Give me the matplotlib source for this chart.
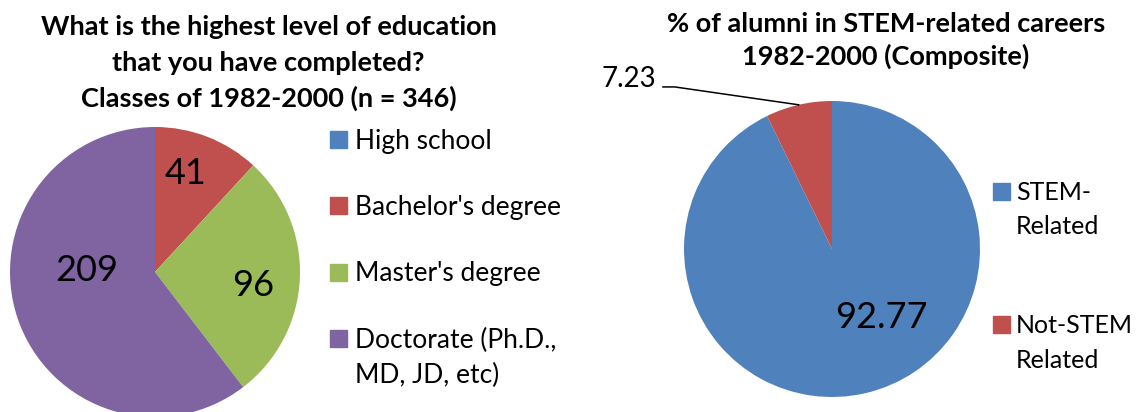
import matplotlib.pyplot as plt
from matplotlib.patches import Rectangle
import numpy as np

plt.rcParams['font.family'] = ['Lato', 'DejaVu Sans']

W, H = 1138, 412

# Data
edu_labels = ['High school', "Bachelor's degree", "Master's degree", 'Doctorate (Ph.D.,\nMD, JD, etc)']
edu_counts = [0, 41, 96, 209]
edu_title = 'What is the highest level of education\nthat you have completed?\nClasses of 1982-2000 (n = 346)'

stem_labels = ['STEM-\nRelated', 'Not-STEM\nRelated']
stem_pct = [92.77, 7.23]
stem_title = '% of alumni in STEM-related careers\n1982-2000 (Composite)'

edu_colors = ['#4F81BD', '#C0504D', '#9BBB59', '#8064A2']
stem_colors = ['#4F81BD', '#C0504D']


def px_axes(cx, cy, r):
    return [(cx - r) / W, (H - (cy + r)) / H, 2 * r / W, 2 * r / H]


def fx(x):
    return x / W


def fy(y):
    return 1 - y / H


def lines(x, y0, step, s, **kw):
    # one text per line so the baselines land where they should
    for k, line in enumerate(s.split('\n')):
        fig.text(fx(x), fy(y0 + k * step), line, va='baseline', **kw)


fig = plt.figure(figsize=(W / 100, H / 100), dpi=100)

# ---- left pie ----
ax1 = fig.add_axes(px_axes(155, 272, 145))
w1, _ = ax1.pie(edu_counts, colors=edu_colors, startangle=90, counterclock=False,
                radius=1, wedgeprops=dict(linewidth=0))
ax1.set_xlim(-1, 1)
ax1.set_ylim(-1, 1)
ax1.set_aspect('equal')
ax1.axis('off')

# label placement: (radius, angle nudge in degrees)
edu_lab_style = {1: (0.71, 4), 2: (0.68, -5), 3: (0.47, -20)}
for i, (wd, v) in enumerate(zip(w1, edu_counts)):
    if v == 0:
        continue
    r, nudge = edu_lab_style[i]
    ang = np.deg2rad((wd.theta1 + wd.theta2) / 2 + nudge)
    ax1.text(r * np.cos(ang), r * np.sin(ang), f'{v}', ha='center', va='center',
             fontsize=26, color='black')

lines(268.5, 35, 36, edu_title, ha='center', fontsize=19.5, fontweight='bold')

# legend (manual, marker aligned with first line)
for i, (lab, col) in enumerate(zip(edu_labels, edu_colors)):
    y = 139 + i * 66.5
    fig.patches.append(Rectangle((fx(330), fy(y + 8.5)), 17 / W, 17 / H,
                                 transform=fig.transFigure, color=col))
    lines(355, y + 9.5, 35, lab, ha='left', fontsize=19)

# ---- right pie ----
ax2 = fig.add_axes(px_axes(832, 249, 148))
w2, _ = ax2.pie(stem_pct, colors=stem_colors, startangle=90, counterclock=False,
                radius=1, wedgeprops=dict(linewidth=0))
ax2.set_xlim(-1, 1)
ax2.set_ylim(-1, 1)
ax2.set_aspect('equal')
ax2.axis('off')

# big inner label
wd = w2[0]
ang = np.deg2rad((wd.theta1 + wd.theta2) / 2 + 23)
ax2.text(0.57 * np.cos(ang), 0.57 * np.sin(ang), f'{stem_pct[0]:.2f}', ha='center',
         va='center', fontsize=26)

# outer label with leader line
wd = w2[1]
ang = np.deg2rad((wd.theta1 + wd.theta2) / 2)
ex, ey = np.cos(ang), np.sin(ang)
tx, ty = -1.142, 1.095
ax2.plot([tx, tx + 0.08, ex], [ty, ty, ey], color='black', linewidth=1.1, clip_on=False)
ax2.text(tx - 0.045, ty, f'{stem_pct[1]:.2f}', ha='right', va='baseline',
         fontsize=20, clip_on=False)

lines(886, 32, 33, stem_title, ha='center', fontsize=19.5, fontweight='bold')

for i, (lab, col) in enumerate(zip(stem_labels, stem_colors)):
    y = 191 + i * 133
    fig.patches.append(Rectangle((fx(993), fy(y + 8.5)), 17 / W, 17 / H,
                                 transform=fig.transFigure, color=col))
    lines(1016, y + 9, 34.5, lab, ha='left', fontsize=18)

fig.savefig('out.png', dpi=100)
